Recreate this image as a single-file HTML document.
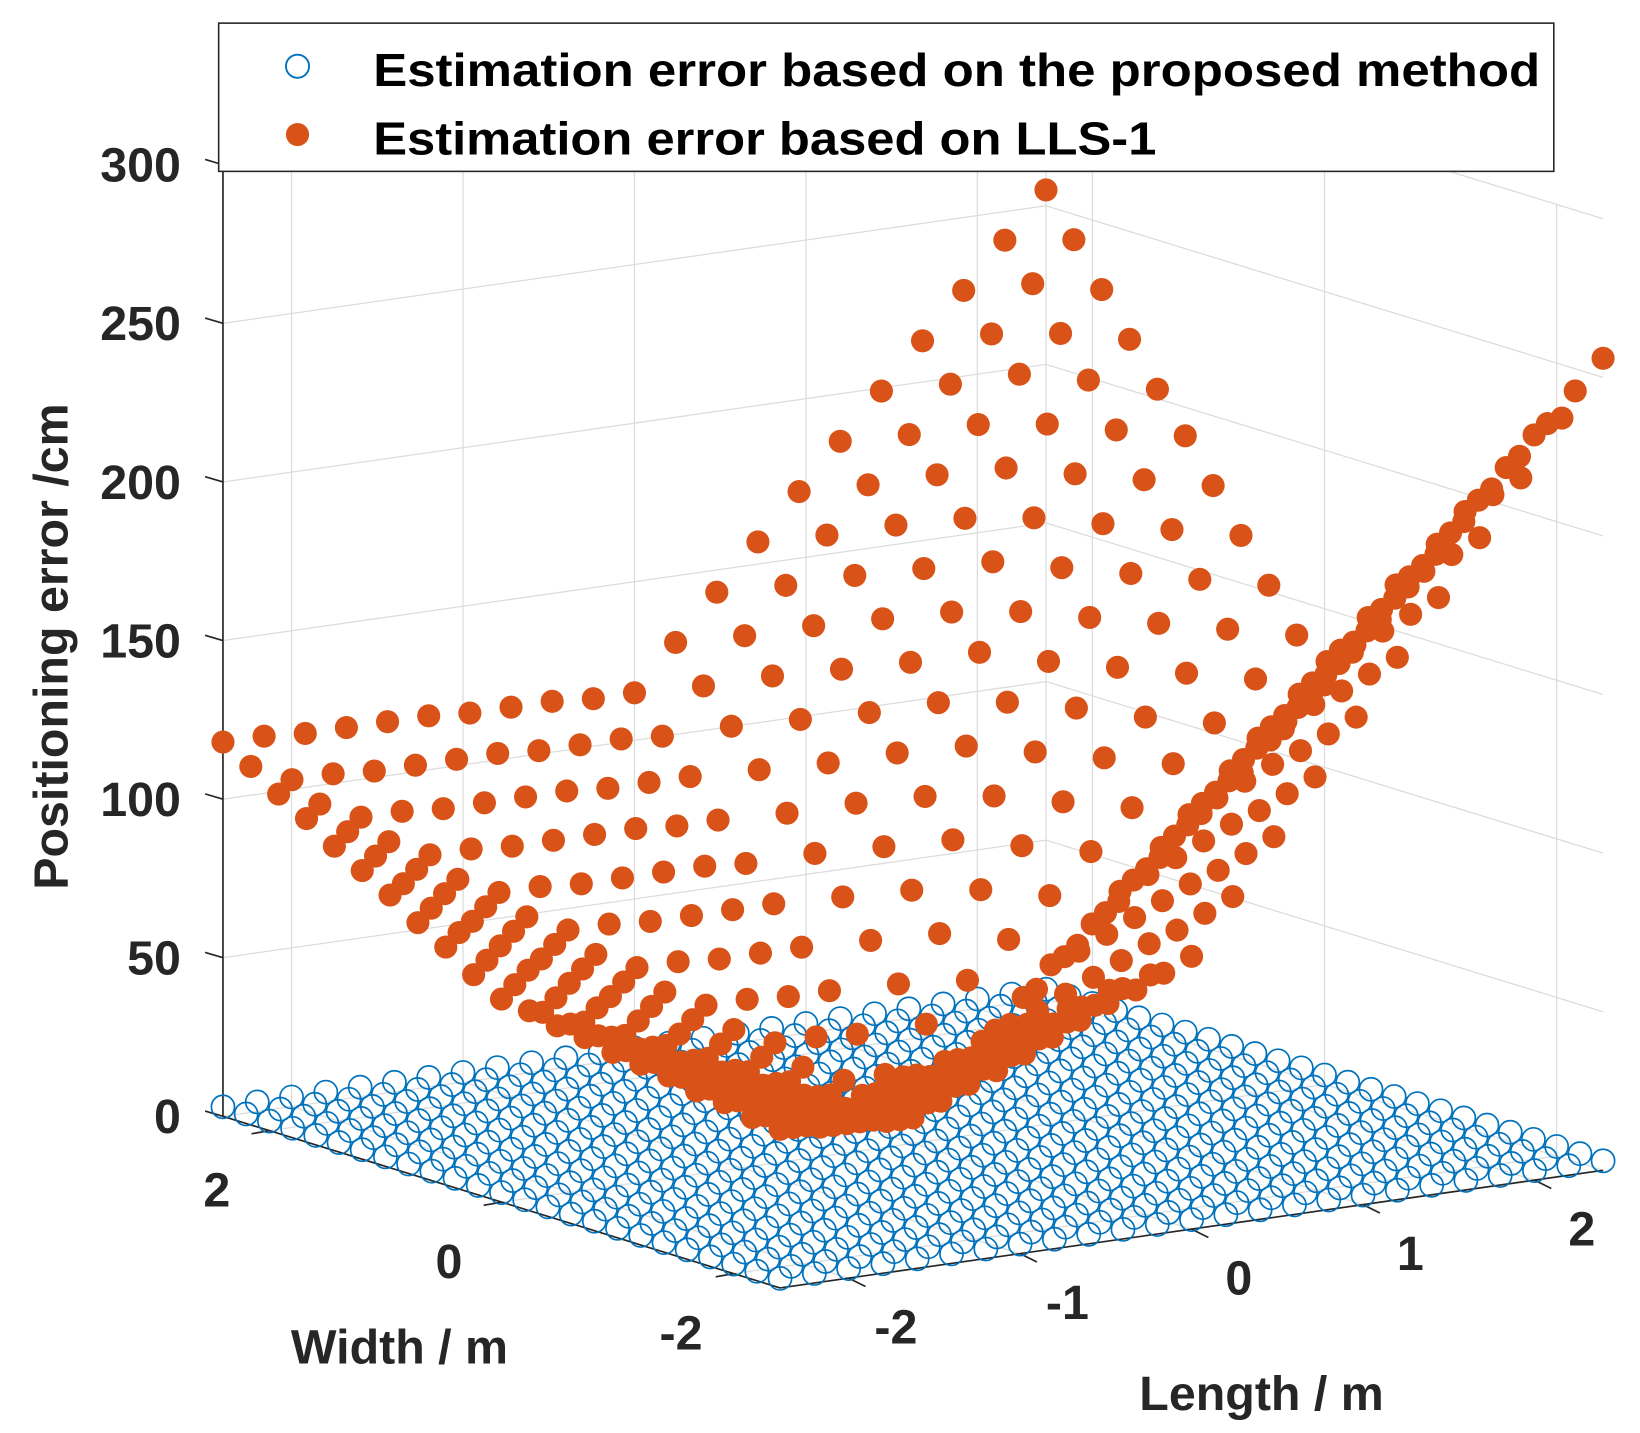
<!DOCTYPE html>
<html>
<head>
<meta charset="utf-8">
<style>
  html, body { margin: 0; padding: 0; background: #fff; }
  svg { display: block; }
  text { font-family: "Liberation Sans", Arial, sans-serif; font-weight: bold; fill: #262626; }
</style>
</head>
<body>
<svg id="chart" xmlns="http://www.w3.org/2000/svg" width="1640" height="1433" viewBox="0 0 1560 1363" preserveAspectRatio="none">
  <rect x="0" y="0" width="1560" height="1363" fill="#ffffff"/>
  <g id="grid"></g>
  <g id="axes"></g>
  <g id="blue"></g>
  <g id="orange"></g>
  <g id="labels"></g>
  <text x="1200" y="1341" font-size="46" text-anchor="middle">Length / m</text>
  <text x="380" y="1297" font-size="46" text-anchor="middle">Width / m</text>
  <text x="0" y="0" font-size="46" text-anchor="middle" transform="translate(64,615) rotate(-90)">Positioning error /cm</text>
  <g>
    <rect x="208" y="22" width="1270" height="141" fill="#ffffff" stroke="#262626" stroke-width="1.5"/>
    <circle cx="283" cy="63" r="11" fill="none" stroke="#0072BD" stroke-width="1.8"/>
    <text x="355" y="82" font-size="44" textLength="1110" lengthAdjust="spacingAndGlyphs" style="fill:#000">Estimation error based on the proposed method</text>
    <circle cx="283" cy="128" r="11" fill="#D95319"/>
    <text x="355" y="147" font-size="44" textLength="745" lengthAdjust="spacingAndGlyphs" style="fill:#000">Estimation error based on LLS-1</text>
  </g>
</svg>
<script>
// ---- data ----
const zTicks = [0, 50, 100, 150, 200, 250, 300];
const lengthTicks = [-2, -1, 0, 1, 2];
const widthTicks = [-2, 0, 2];
const blueGrid = [-2.4,-2.2,-2.0,-1.8,-1.6,-1.4,-1.2,-1.0,-0.8,-0.6,-0.4,-0.2,0,0.2,0.4,0.6,0.8,1.0,1.2,1.4,1.6,1.8,2.0,2.2,2.4];
const blueErr = [3,3,3,3,3,3,3,3,3,3,3,3,3,3,3,3,3,3,3,3,3,3,3,3,3];
const orangeW = [-2.4,-2.16,-1.92,-1.68,-1.44,-1.2,-0.96,-0.72,-0.48,-0.24,0,0.24,0.48,0.72,0.96,1.2,1.44,1.68,1.92,2.16,2.4];
const orangeL = [-2.4,-2.16,-1.92,-1.68,-1.44,-1.2,-0.96,-0.72,-0.48,-0.24,0,0.24,0.48,0.72,0.96,1.2,1.44,1.68,1.92,2.16,2.4];
// rows: length index, columns: width index
const orangeZ = [
  [50,51,53,54,56,57,58,60,61,63,64,69,75,80,86,91,96,102,107,113,118],
  [54,46,47,49,50,51,53,54,56,57,58,64,69,75,80,85,91,96,102,107,118],
  [57,49,42,43,44,46,47,49,50,51,53,58,64,69,74,80,85,91,96,107,117],
  [61,53,45,37,39,40,42,43,44,46,47,53,58,63,69,74,80,85,96,106,117],
  [64,57,49,41,33,35,36,37,39,40,42,47,52,58,63,69,74,85,95,106,117],
  [68,60,52,45,37,29,30,32,33,35,36,41,47,52,58,63,74,84,95,106,117],
  [72,64,56,48,40,33,25,26,28,29,30,36,41,47,52,63,73,84,95,106,116],
  [75,67,60,52,44,36,28,21,22,23,25,30,36,41,52,62,73,84,95,105,116],
  [79,71,63,55,48,40,32,24,16,18,19,25,30,41,51,62,73,84,94,105,116],
  [82,75,67,59,51,43,36,28,20,12,14,19,30,40,51,62,73,83,94,105,115],
  [86,78,70,63,55,47,39,31,24,16,8,19,29,40,51,62,72,83,94,104,115],
  [103,95,87,80,72,64,56,48,41,33,20,33,43,54,65,76,86,97,108,118,129],
  [120,112,104,97,89,81,73,65,58,45,32,45,57,68,79,90,100,111,122,132,143],
  [137,129,121,114,106,98,90,82,69,56,43,56,69,82,93,104,114,125,136,146,157],
  [154,146,138,131,123,115,107,94,81,68,55,68,81,94,107,118,128,139,150,160,171],
  [171,163,155,148,140,132,119,106,93,80,67,80,93,106,119,132,142,153,164,174,185],
  [188,180,172,165,157,144,131,118,105,92,79,92,105,118,130,143,156,167,178,188,199],
  [205,197,189,182,169,156,143,130,117,104,91,104,116,129,142,155,168,181,192,202,213],
  [222,214,206,193,180,167,154,141,128,115,102,115,128,141,154,167,180,193,206,216,227],
  [239,231,218,205,192,179,166,153,140,127,114,127,140,153,166,179,192,205,217,230,241],
  [256,243,230,217,204,191,178,165,152,139,126,139,152,165,178,191,203,216,229,242,255]
];

// ---- projection ----
const LIM = 2.4, ZMAX = 300;
function px(w, l, z) { return 742 + (w + LIM) * (-110.4) + (l + LIM) * 163.1; }
function py(w, l, z) { return 1225 + (w + LIM) * (-34) + (l + LIM) * (-23.3) - z * 3.017; }
function depth(w, l) { return -(w + LIM) * 34 - (l + LIM) * 23.3; }

const NS = "http://www.w3.org/2000/svg";
function mk(tag, parent, attrs) {
  const e = document.createElementNS(NS, tag);
  for (const k in attrs) e.setAttribute(k, attrs[k]);
  parent.appendChild(e);
  return e;
}
const grid = document.getElementById('grid');
const axes = document.getElementById('axes');
const labels = document.getElementById('labels');
const GC = '#dcdcdc';

zTicks.forEach(function (z) {
  const a = mk('polyline', grid, {points: px(LIM,-LIM,z)+','+py(LIM,-LIM,z)+' '+px(LIM,LIM,z)+','+py(LIM,LIM,z)+' '+px(-LIM,LIM,z)+','+py(-LIM,LIM,z), fill:'none', stroke:GC, 'stroke-width':1.2});
  
  
});
lengthTicks.forEach(function (l) {
  const v = mk('line', grid, {x1:px(LIM,l,0), y1:py(LIM,l,0), x2:px(LIM,l,ZMAX), y2:py(LIM,l,ZMAX), stroke:GC, 'stroke-width':1.2});
  
  
  const f = mk('line', grid, {x1:px(-LIM,l,0), y1:py(-LIM,l,0), x2:px(LIM,l,0), y2:py(LIM,l,0), stroke:GC, 'stroke-width':1.2});
  
  
});
widthTicks.forEach(function (w) {
  const v = mk('line', grid, {x1:px(w,LIM,0), y1:py(w,LIM,0), x2:px(w,LIM,ZMAX), y2:py(w,LIM,ZMAX), stroke:GC, 'stroke-width':1.2});
  
  
  const f = mk('line', grid, {x1:px(w,-LIM,0), y1:py(w,-LIM,0), x2:px(w,LIM,0), y2:py(w,LIM,0), stroke:GC, 'stroke-width':1.2});
  
  
});
const bc = mk('line', grid, {x1:px(LIM,LIM,0), y1:py(LIM,LIM,0), x2:px(LIM,LIM,ZMAX), y2:py(LIM,LIM,ZMAX), stroke:GC, 'stroke-width':1.2});



const AX = '#262626';
const zAxis = mk('line', axes, {x1:px(LIM,-LIM,0), y1:py(LIM,-LIM,0), x2:px(LIM,-LIM,ZMAX), y2:py(LIM,-LIM,ZMAX), stroke:AX, 'stroke-width':1.6});


const wAxis = mk('line', axes, {x1:px(LIM,-LIM,0), y1:py(LIM,-LIM,0), x2:px(-LIM,-LIM,0), y2:py(-LIM,-LIM,0), stroke:AX, 'stroke-width':1.6});


const lAxis = mk('line', axes, {x1:px(-LIM,-LIM,0), y1:py(-LIM,-LIM,0), x2:px(-LIM,LIM,0), y2:py(-LIM,LIM,0), stroke:AX, 'stroke-width':1.6});



zTicks.forEach(function (z) {
  const x = px(LIM,-LIM,z), y = py(LIM,-LIM,z);
  const t = mk('line', axes, {x1:x-17, y1:y-5, x2:x, y2:y, stroke:AX, 'stroke-width':1.6});
  
  
  const tx = mk('text', labels, {x:x-40, y:y+16, 'font-size':46, 'text-anchor':'end'});
  tx.textContent = z;
  
  
});
lengthTicks.forEach(function (l) {
  const x = px(-LIM,l,0), y = py(-LIM,l,0);
  const t = mk('line', axes, {x1:x, y1:y, x2:x+16, y2:y+8, stroke:AX, 'stroke-width':1.6});
  
  
  const tx = mk('text', labels, {x:x+45, y:y+62, 'font-size':46, 'text-anchor':'middle'});
  tx.textContent = l;
  
  
});
widthTicks.forEach(function (w) {
  const x = px(w,-LIM,0), y = py(w,-LIM,0);
  const t = mk('line', axes, {x1:x, y1:y, x2:x-17, y2:y+3, stroke:AX, 'stroke-width':1.6});
  
  
  const tx = mk('text', labels, {x:x-50, y:y+72, 'font-size':46, 'text-anchor':'middle'});
  tx.textContent = w;
  
  
});

const blue = document.getElementById('blue');
const bpts = [];
blueGrid.forEach(function (w, i) { blueGrid.forEach(function (l) { bpts.push([w, l, blueErr[i]]); }); });
bpts.sort(function (a, b) { return depth(a[0], a[1]) - depth(b[0], b[1]); });
bpts.forEach(function (p) {
  const c = mk('circle', blue, {cx:px(p[0],p[1],p[2]), cy:py(p[0],p[1],p[2]), r:11, fill:'none', stroke:'#0072BD', 'stroke-width':1.6});
  
  
});

const orange = document.getElementById('orange');
const opts = [];
orangeL.forEach(function (l, j) { orangeW.forEach(function (w, i) { opts.push([w, l, orangeZ[j][i]]); }); });
opts.sort(function (a, b) { return depth(a[0], a[1]) - depth(b[0], b[1]); });
opts.forEach(function (p) {
  const c = mk('circle', orange, {cx:px(p[0],p[1],p[2]), cy:py(p[0],p[1],p[2]), r:11, fill:'#D95319'});
  
  
});
</script>
</body>
</html>
